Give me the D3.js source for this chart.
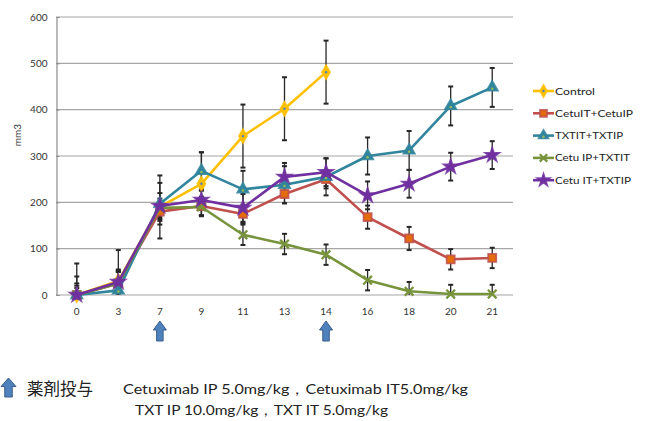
<!DOCTYPE html>
<html><head><meta charset="utf-8">
<script src="https://cdn.jsdelivr.net/npm/d3@7/dist/d3.min.js"></script>
<style>
html,body{margin:0;padding:0;background:#fff;}
svg{display:block;font-family:Lato,"Open Sans",sans-serif;}
</style></head>
<body>
<script>
const days = ["0","3","7","9","11","13","14","16","18","20","21"];
const yTicks = [0,100,200,300,400,500,600];
const seriesNames = ["Control","CetuIT+CetuIP","TXTIT+TXTIP","Cetu IP+TXTIT","Cetu IT+TXTIP"];
const controlVals = [0,30,190,240,343,402,481,null,null,null,null];
const controlErr  = [68,67,68,68,68,68,68,null,null,null,null];
const cetuVals = [0,25,180,192,175,218,250,168,122,77,80];
const cetuErr  = [25,25,20,20,20,20,20,25,25,22,22];
const txtVals = [0,10,197,268,228,238,255,300,312,408,448];
const txtErr  = [40,40,45,40,40,40,40,40,42,42,42];
const ipItVals = [0,25,188,190,130,110,87,32,8,2,2];
const ipItErr  = [15,30,20,20,22,22,22,22,20,20,20];
const itIpVals = [0,28,192,205,188,255,265,215,240,277,302];
const itIpErr  = [20,25,28,20,30,30,30,30,30,30,30];
const doseDays = ["7","14"];
const yLabel = "mm3";
const noteLabel = "薬剤投与";
const noteLine1 = "Cetuximab IP 5.0mg/kg，Cetuximab IT5.0mg/kg";
const noteLine2 = "TXT IP 10.0mg/kg，TXT IT 5.0mg/kg";

const W=647,H=421;
const svg=d3.select("body").append("svg").attr("width",W).attr("height",H);
const x=d3.scaleBand().domain(days).range([56,513]);
const y=d3.scaleLinear().domain([0,600]).range([295,17]);
const cx=d=>x(d)+x.bandwidth()/2;

// gridlines
svg.append("g").selectAll("line").data(yTicks).join("line")
 .attr("x1",56).attr("x2",513).attr("y1",d=>y(d)).attr("y2",d=>y(d))
 .attr("stroke","#a6a6a6").attr("stroke-width",1.2);
// y axis
const ya=svg.append("g").attr("transform","translate(56.5,0)")
 .call(d3.axisLeft(y).tickValues(yTicks).tickSize(-3).tickPadding(9));
ya.select(".domain").attr("stroke","#8c8c8c").attr("stroke-width",1.2);
ya.selectAll(".tick line").attr("stroke","#8c8c8c");
ya.selectAll("text").attr("font-size",10).attr("fill","#333").attr("font-family","Lato");
// x labels
const xa=svg.append("g").attr("transform","translate(0,295)")
 .call(d3.axisBottom(x).tickSize(0).tickPadding(13));
xa.select(".domain").remove();
xa.selectAll("text").attr("font-size",10).attr("fill","#333").attr("font-family","Lato");

// y label
svg.append("text").attr("transform","translate(21,135) rotate(-90)")
 .attr("text-anchor","middle").attr("font-size",10).attr("fill","#333").text(yLabel);

const series=[
 {name:seriesNames[0],vals:controlVals,err:controlErr,color:"#FFC000",sym:d3.symbolDiamond,size:55,fill:"#FFC000",stroke:"#FFC000",dot:"#4F81BD",lw:40},
 {name:seriesNames[1],vals:cetuVals,err:cetuErr,color:"#C0504D",sym:d3.symbolSquare,size:64,fill:"#E46C0A",stroke:"#C0504D",dot:null,lw:78},
 {name:seriesNames[2],vals:txtVals,err:txtErr,color:"#31859C",sym:d3.symbolTriangle,size:55,fill:"#31859C",stroke:"#31859C",dot:"#9BBB59",lw:68},
 {name:seriesNames[3],vals:ipItVals,err:ipItErr,color:"#77933C",sym:d3.symbolX,size:50,fill:"none",stroke:"#77933C",dot:null,strokeSym:true,lw:75},
 {name:seriesNames[4],vals:itIpVals,err:itIpErr,color:"#7030A0",sym:d3.symbolStar,size:60,fill:"#7030A0",stroke:"#7030A0",dot:null,lw:76}
];

// error bars
const eb=svg.append("g").attr("stroke","#262626").attr("stroke-width",1.3);
series.forEach(s=>{
 days.forEach((d,i)=>{
  const v=s.vals[i],e=s.err[i]; if(v==null) return;
  const lo=Math.max(0,v-e),hi=v+e,X=cx(d);
  eb.append("line").attr("x1",X).attr("x2",X).attr("y1",y(lo)).attr("y2",y(hi));
  eb.append("line").attr("x1",X-2.5).attr("x2",X+2.5).attr("y1",y(hi)).attr("y2",y(hi)).attr("stroke-width",2);
  if(v-e>0) eb.append("line").attr("x1",X-2.5).attr("x2",X+2.5).attr("y1",y(lo)).attr("y2",y(lo)).attr("stroke-width",2);
 });
});

function drawMarker(g,s,X,Y,k){
 k=k||1;
 const p=d3.symbol().type(s.sym).size(s.size*k)();
 const m=g.append("path").attr("d",p).attr("transform",`translate(${X},${Y})`);
 if(s.strokeSym) m.attr("fill","none").attr("stroke",s.stroke).attr("stroke-width",2.3);
 else m.attr("fill",s.fill).attr("stroke",s.stroke).attr("stroke-width",1.8).attr("stroke-opacity",0.85);
 if(s.dot) g.append("circle").attr("cx",X).attr("cy",Y+(s.sym===d3.symbolTriangle?1.2:0)).attr("r",1.2).attr("fill",s.dot);
}

const line=d3.line().defined(d=>d.v!=null).x(d=>cx(d.d)).y(d=>y(d.v));
series.forEach(s=>{
 const pts=days.map((d,i)=>({d,v:s.vals[i]}));
 svg.append("path").attr("d",line(pts)).attr("fill","none").attr("stroke",s.color).attr("stroke-width",2.6).attr("stroke-linejoin","round");
 const g=svg.append("g");
 pts.filter(p=>p.v!=null).forEach(p=>drawMarker(g,s,cx(p.d),y(p.v)));
});

// legend
const lg=svg.append("g");
series.forEach((s,i)=>{
 const Y=91+i*22.3;
 lg.append("line").attr("x1",533).attr("x2",554).attr("y1",Y).attr("y2",Y).attr("stroke",s.color).attr("stroke-width",2.6);
 drawMarker(lg,s,543.5,Y,0.75);
 lg.append("text").attr("x",555).attr("y",Y+3.5).attr("font-size",10).attr("fill","#222")
  .attr("textLength",s.lw).attr("lengthAdjust","spacingAndGlyphs").text(s.name);
});

// dose arrows
function upArrow(g,X,top,h,w){
 const sw=w*0.5,hh=h*0.45;
 const pts=[[X,top],[X+w/2,top+hh],[X+sw/2,top+hh],[X+sw/2,top+h],[X-sw/2,top+h],[X-sw/2,top+hh],[X-w/2,top+hh]];
 g.append("polygon").attr("points",pts.map(p=>p.join(",")).join(" "))
  .attr("fill","#4F81BD").attr("stroke","#385D8A").attr("stroke-width",1);
}
const ag=svg.append("g");
doseDays.forEach(d=>upArrow(ag,cx(d),321,20,13));
upArrow(ag,8.5,378,19,15);

svg.append("text").attr("x",27).attr("y",395).attr("font-size",16.5).attr("fill","#222")
 .attr("font-family","'Noto Sans CJK JP'").text(noteLabel);
svg.append("text").attr("x",123).attr("y",394).attr("font-size",14).attr("fill","#222")
 .attr("textLength",345).attr("lengthAdjust","spacingAndGlyphs").text(noteLine1);
svg.append("text").attr("x",135).attr("y",415).attr("font-size",14).attr("fill","#222")
 .attr("textLength",253).attr("lengthAdjust","spacingAndGlyphs").text(noteLine2);
</script>
</body></html>
